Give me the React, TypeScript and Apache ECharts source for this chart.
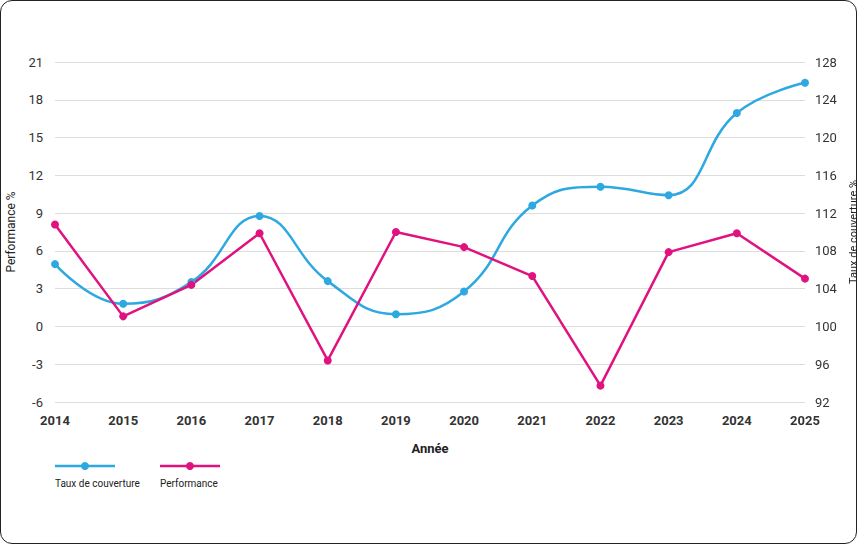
import React, { useEffect, useRef } from "react";
import * as echarts from "echarts";

const years = ["2014","2015","2016","2017","2018","2019","2020","2021","2022","2023","2024","2025"];
const taux = [106.6,102.4,104.7,111.7,104.8,101.3,103.7,112.8,114.8,113.9,122.6,125.8];
const perf = [8.1,0.8,3.3,7.4,-2.7,7.5,6.3,4.0,-4.7,5.9,7.4,3.8];
const BLUE = "#2ea8e0";
const PINK = "#e0127f";
const FONT = "Roboto, sans-serif";

export default function App() {
  const ref = useRef<HTMLDivElement>(null);
  useEffect(() => {
    const chart = echarts.init(ref.current!, undefined, { renderer: "svg" });
    const axisLabel = { color: "#333", fontSize: 13, fontFamily: FONT };
    chart.setOption({
      animation: false,
      textStyle: { fontFamily: FONT },
      grid: { left: 54, right: 51, top: 61, bottom: 141, containLabel: false, outerBoundsMode: "none" },
      xAxis: {
        type: "category", data: years, boundaryGap: false,
        name: "Année", nameLocation: "middle", nameGap: 40,
        nameTextStyle: { color: "#222", fontSize: 13, fontWeight: "bold", fontFamily: FONT },
        axisLine: { show: false }, axisTick: { show: false },
        axisLabel: { ...axisLabel, fontWeight: "bold", margin: 12 },
      },
      yAxis: [
        {
          type: "value", min: -6, max: 21, interval: 3,
          name: "Performance %", nameLocation: "middle", nameGap: 28, nameRotate: 90,
          nameTextStyle: { color: "#222", fontSize: 12, fontFamily: FONT },
          axisLabel: { ...axisLabel, margin: 12 },
          splitLine: { lineStyle: { color: "#ddd" } },
          axisLine: { show: false }, axisTick: { show: false },
        },
        {
          type: "value", min: 92, max: 128, interval: 4,
          name: "Taux de couverture %", nameLocation: "middle", nameGap: 38, nameRotate: 90,
          nameTextStyle: { color: "#222", fontSize: 11, fontFamily: FONT },
          axisLabel: { ...axisLabel, margin: 10 },
          splitLine: { show: false },
          axisLine: { show: false }, axisTick: { show: false },
        },
      ],
      series: [
        {
          name: "Taux de couverture", type: "line", yAxisIndex: 1, data: taux, smooth: 0.45,
          symbol: "circle", symbolSize: 8,
          lineStyle: { color: BLUE, width: 2.5 }, itemStyle: { color: BLUE },
        },
        {
          name: "Performance", type: "line", yAxisIndex: 0, data: perf,
          symbol: "circle", symbolSize: 8,
          lineStyle: { color: PINK, width: 2.5 }, itemStyle: { color: PINK },
        },
      ],
      graphic: [
        { type: "line", shape: { x1: 54, y1: 465, x2: 114, y2: 465 }, style: { stroke: BLUE, lineWidth: 2.5 } },
        { type: "circle", shape: { cx: 84, cy: 465, r: 4 }, style: { fill: BLUE } },
        { type: "text", x: 54, y: 477, style: { text: "Taux de couverture", fill: "#222", fontSize: 10, fontFamily: FONT } },
        { type: "line", shape: { x1: 159, y1: 465, x2: 219, y2: 465 }, style: { stroke: PINK, lineWidth: 2.5 } },
        { type: "circle", shape: { cx: 189, cy: 465, r: 4 }, style: { fill: PINK } },
        { type: "text", x: 159, y: 477, style: { text: "Performance", fill: "#222", fontSize: 10, fontFamily: FONT } },
      ],
    });
    return () => chart.dispose();
  }, []);
  return (
    <div style={{ position: "fixed", left: 0, top: 0, width: 857, height: 544, boxSizing: "border-box", border: "1px solid #222", borderRadius: 12, background: "#fff", overflow: "hidden" }}>
      <div ref={ref} style={{ width: 855, height: 542 }} />
    </div>
  );
}
